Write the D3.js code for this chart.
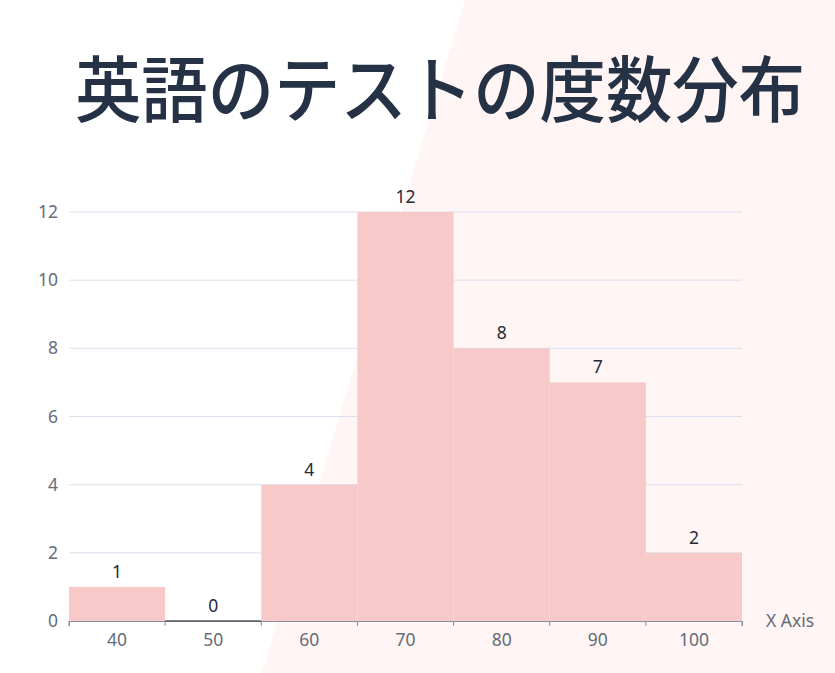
<!DOCTYPE html>
<html><head><meta charset="utf-8">
<script src="https://cdn.jsdelivr.net/npm/d3@7"></script>
<style>html,body{margin:0;padding:0;background:#fff;}svg{display:block;}</style>
</head><body>
<script>
const title = "英語のテストの度数分布";
const categories = ["40","50","60","70","80","90","100"];
const counts = [1,0,4,12,8,7,2];
const yTicks = [0,2,4,6,8,10,12];
const xAxisLabel = "X Axis";

const W = 835, H = 673;
const svg = d3.select("body").append("svg").attr("width",W).attr("height",H);

// background diagonal panel
svg.append("polygon").attr("points","465,0 835,0 835,673 262,673").attr("fill","#fef5f4");

svg.append("text").attr("x",75).attr("y",116)
  .attr("font-family","'Noto Sans CJK JP','Noto Sans',sans-serif").attr("font-weight",500)
  .attr("font-size",72).attr("fill","#253245")
  .attr("textLength",730).attr("lengthAdjust","spacingAndGlyphs").text(title);

const x = d3.scaleBand().domain(categories).range([69,742]).padding(0);
const y = d3.scaleLinear().domain([0,12]).range([621,212]);

const font = "'Noto Sans','Open Sans',sans-serif";
const fs = 17.5;

// grid
svg.append("g").selectAll("line").data(yTicks.filter(d=>d>0)).join("line")
  .attr("x1",69).attr("x2",742).attr("y1",d=>y(d)).attr("y2",d=>y(d))
  .attr("stroke","#dde0ee").attr("stroke-width",1);

// y axis
const yAxis = svg.append("g").attr("transform","translate(69,0)")
  .call(d3.axisLeft(y).tickValues(yTicks).tickSize(0).tickPadding(11));
yAxis.select(".domain").remove();
yAxis.selectAll("text").attr("font-family",font).attr("font-size",fs).attr("fill","#666c7a");

// bars
svg.append("g").selectAll("rect").data(counts).join("rect")
  .attr("x",(d,i)=>x(categories[i])).attr("width",x.bandwidth())
  .attr("y",d=>y(d)).attr("height",d=>Math.max(0,y(0)-y(d)))
  .attr("fill","#f7c9c9");

// x axis
const xAxis = svg.append("g").attr("transform","translate(0,621)")
  .call(d3.axisBottom(x).tickSize(5).tickPadding(8).tickSizeOuter(5));
xAxis.select(".domain").attr("stroke","#8a8f9c");
xAxis.selectAll(".tick line").remove();
const bounds = categories.map(c=>x(c)).concat([x(categories[categories.length-1])+x.bandwidth()]);
xAxis.selectAll("line.bt").data(bounds).join("line").attr("class","bt")
  .attr("x1",d=>d).attr("x2",d=>d).attr("y1",0).attr("y2",5).attr("stroke","#8a8f9c");
xAxis.selectAll("text").attr("font-family",font).attr("font-size",fs).attr("fill","#666c7a");

// zero-height bars drawn as a dark line
svg.append("g").selectAll("line").data(counts.map((d,i)=>({d,i})).filter(o=>o.d===0)).join("line")
  .attr("x1",o=>x(categories[o.i])).attr("x2",o=>x(categories[o.i])+x.bandwidth())
  .attr("y1",y(0)).attr("y2",y(0)).attr("stroke","#555a66").attr("stroke-width",1.5);

// value labels
svg.append("g").selectAll("text").data(counts).join("text")
  .attr("x",(d,i)=>x(categories[i])+x.bandwidth()/2).attr("y",d=>y(d)-9)
  .attr("text-anchor","middle").attr("font-family",font).attr("font-size",fs)
  .attr("fill","#252a36").text(d=>d);

svg.append("text").attr("x",766).attr("y",627).attr("font-family",font).attr("font-size",fs)
  .attr("fill","#666c7a").text(xAxisLabel);
</script>
</body></html>
